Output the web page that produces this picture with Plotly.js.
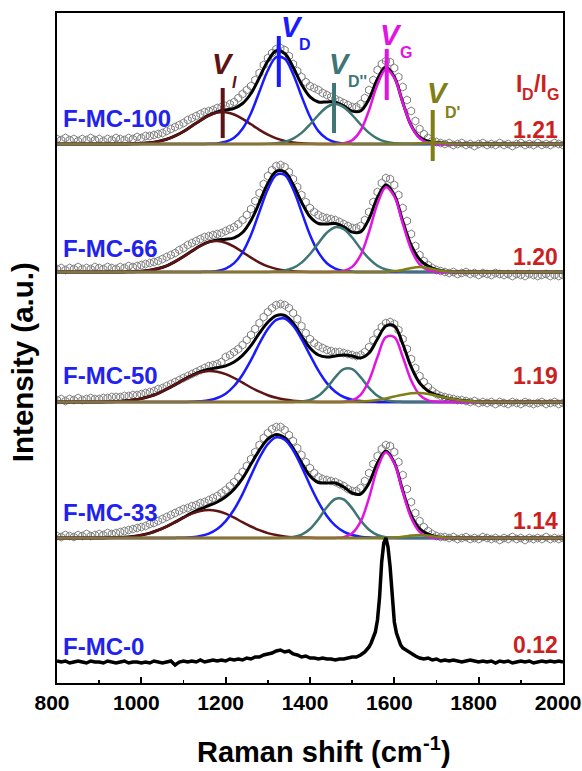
<!DOCTYPE html>
<html><head><meta charset="utf-8">
<script src="https://cdn.plot.ly/plotly-3.0.1.min.js"></script>
<style>html,body{margin:0;padding:0;background:#fff;}#chart{width:582px;height:771px;}</style>
</head><body><div id="chart"></div>
<script>
// ---------------- DATA (heights above each spectrum's own baseline) ----------------
const samples = ['F-MC-100', 'F-MC-66', 'F-MC-50', 'F-MC-33', 'F-MC-0'];
const ratios = ['1.21', '1.20', '1.19', '1.14', '0.12'];
const offsets = [539, 411, 281, 145, 21];          // stacking offsets (a.u.)
const tickVals = [800, 1000, 1200, 1400, 1600, 1800, 2000];

// measured spectra, 800..2000 cm-1 every 10 cm-1
const data100 = [5,4,6,4,5,3,5,4,6,4, 5,3,5,4,6,5,4,6,5,7, 6,8,8,9,10,11,13,15,17,19,
 21,24,26,28,30,32,33,34,36,37, 38,40,42,46,50,54,58,64,71,79, 86,91,95,96,94,88,80,73,67,62,
 58,56,54,51,49,47,45,43,41,39, 37,37,40,46,54,64,74,80,83,82, 76,67,57,44,33,23,15,10,6,3,
 2,1,0,1,-1,0,1,-1,0,-2, 0,1,-1,0,-1,1,-1,0,-2,0, 1,-1,0,-1,1,-1,0,-1,1,0, -1];
const data66 = [3,4,2,4,3,5,3,4,3,5, 4,3,5,4,3,5,4,6,5,6, 7,8,9,10,11,13,15,17,19,22,
 24,27,29,31,33,35,36,37,38,39, 41,43,45,48,52,57,63,71,79,88, 96,102,106,107,105,100,93,85,77,70,
 64,60,57,55,54,53,52,50,48,46, 44,44,46,52,60,70,80,89,94,93, 87,77,64,51,38,26,17,11,7,4,
 2,1,0,-1,0,-2,-1,0,-2,-1, -3,-1,-2,-3,-1,-2,-3,-2,-4,-2, -3,-4,-2,-3,-4,-3,-2,-4,-3,-4, -3];
const data50 = [2,3,1,3,2,4,2,3,4,3, 3,4,4,5,5,5,6,6,7,7, 8,9,10,11,13,14,16,18,20,22,
 24,26,28,30,32,34,36,37,38,40, 45,47,50,53,57,62,67,73,79,85, 90,94,97,98,97,94,89,83,76,69,
 63,59,56,54,52,51,50,50,49,48, 47,46,47,50,55,62,69,75,79,80, 78,72,63,53,43,34,26,20,15,11,
 8,6,5,4,3,2,2,1,0,1, -1,0,-1,0,-2,0,-1,-2,0,-1, -2,0,-1,-2,-1,0,-2,-1,0,-2, -1];
const data33 = [2,1,3,2,1,3,2,4,2,3, 4,3,5,4,5,6,7,8,9,10, 11,12,14,15,17,19,21,23,25,27,
 29,30,32,33,35,36,38,40,42,45, 48,52,56,61,66,72,79,86,93,100, 105,109,111,111,108,103,97,90,83,76,
 70,65,61,59,58,57,56,54,52,49, 47,47,50,57,65,74,82,89,93,92, 86,76,63,49,36,25,17,11,7,4,
 2,1,1,0,1,-1,0,1,-1,0, -1,1,0,-1,0,-2,0,-1,1,-1, 0,-2,0,-1,0,-1,1,-1,0,-1, 0];

// F-MC-0 raw line (irregular sampling near the G band)
const shift0 = [800,810,820,830,840,850,860,870,880,890,900,910,920,930,940,950,960,970,980,990,
 1000,1010,1020,1030,1040,1050,1060,1070,1080,1090,1100,1110,1120,1130,1140,1150,1160,1170,1180,1190,
 1200,1210,1220,1230,1240,1250,1260,1270,1280,1290,1300,1310,1320,1330,1340,1350,1360,1370,1380,1390,
 1400,1410,1420,1430,1440,1450,1460,1470,1480,1490,1500,1510,1520,1530,1540,
 1545,1550,1555,1560,1565,1570,1575,1580,1585,1590,1595,1600,1605,1610,1615,1620,
 1630,1640,1650,1660,1670,1680,1690,1700,1710,1720,1730,1740,1750,1760,1770,1780,1790,
 1800,1810,1820,1830,1840,1850,1860,1870,1880,1890,1900,1910,1920,1930,1940,1950,1960,1970,1980,1990,2000];
const data0 = [1,0,1,-1,0,1,0,-1,1,0, 0,-1,1,0,-1,0,1,-1,0,0,
 -1,0,-1,1,0,-1,0,1,-3,0, 1,0,1,0,2,0,1,2,1,2,
 1,3,2,3,2,4,3,5,5,7, 8,9,11,12,10,11,8,7,5,6,
 4,4,3,4,3,3,2,3,3,4, 5,5,7,10,15,
 19,24,30,42,65,100,119,124,115,95,65,40,29,22,17,14,
 11,8,6,4,3,4,2, 3,1,2,1,2,1,0,1,2,1,
 0,1,0,1,-1,1,0,1,-1,0, 1,0,1,-1,0,1,0,1,0,1, 0];

// fitted curves, 800..2000 cm-1 every 20 cm-1  (I, D, D'', G, D' bands and total fit)
const I100  = [0,0,0,0,0, 0,0,0,0.1,0.2, 0.6,1.3,2.6,4.7,8.1, 12.5,18.1,23.6,28.4,31.4, 31.8,29.5,25.2,19.7,14.1, 9.3,5.6,3.1,1.6,0.7, 0.3,0.1,0,0,0, 0,0,0,0,0, 0,0,0,0,0, 0,0,0,0,0, 0,0,0,0,0, 0,0,0,0,0, 0];
const D100  = [0,0,0,0,0, 0,0,0,0,0, 0,0,0,0,0, 0,0,0,0.2,0.6, 2.2,6.2,15.3,30.8,52.3, 73.5,86.8,85.2,69.8,47.8, 27.3,12.9,5.2,1.7,0.5, 0.1,0,0,0,0, 0,0,0,0,0, 0,0,0,0,0, 0,0,0,0,0, 0,0,0,0,0, 0];
const D2_100= [0,0,0,0,0, 0,0,0,0,0, 0,0,0,0,0, 0,0,0,0,0, 0,0,0,0,0, 0.2,0.8,2.2,5.4,11.1, 19.5,29.0,36.9,40,36.9, 29.0,19.5,11.1,5.4,2.2, 0.8,0.2,0,0,0, 0,0,0,0,0, 0,0,0,0,0, 0,0,0,0,0, 0];
const G100  = [0,0,0,0,0, 0,0,0,0,0, 0,0,0,0,0, 0,0,0,0,0, 0,0,0,0,0, 0,0,0,0,0, 0,0,0,0.1,0.8, 3.8,13.5,33.8,59.5,74.7, 66.2,41.4,18.3,5.8,1.3, 0.2,0,0,0,0, 0,0,0,0,0, 0,0,0,0,0, 0];
const Dp100 = [0,0,0,0,0, 0,0,0,0,0, 0,0,0,0,0, 0,0,0,0,0, 0,0,0,0,0, 0,0,0,0,0, 0,0,0,0,0, 0,0,0,0,0, 0,0,0.2,0.7,1.4, 1.4,0.7,0.2,0,0, 0,0,0,0,0, 0,0,0,0,0, 0];
const fit100= [0,0,0,0,0, 0,0,0,0.1,0.2, 0.6,1.3,2.6,4.7,8.1, 12.5,18.1,23.6,28.6,32.0, 34.0,35.7,40.5,50.5,66.4, 83.0,93.2,90.5,76.8,59.6, 47.1,42.0,42.1,41.8,38.2, 32.9,33.0,44.9,64.9,76.9, 67.0,41.6,18.5,6.5,2.7, 1.6,0.7,0.2,0,0, 0,0,0,0,0, 0,0,0,0,0, 0];

const I66   = [0,0,0,0,0, 0,0,0,0.1,0.3, 0.8,1.8,3.5,6.2,10.4, 15.4,21.0,26.2,29.9,31.0, 29.3,25.3,19.9,14.4,9.4, 5.6,3.1,1.6,0.7,0.3, 0.1,0,0,0,0, 0,0,0,0,0, 0,0,0,0,0, 0,0,0,0,0, 0,0,0,0,0, 0,0,0,0,0, 0];
const D66   = [0,0,0,0,0, 0,0,0,0,0, 0,0,0,0,0, 0,0,0.1,0.3,1.1, 3.4,8.8,19.6,37.1,60.1, 82.7,97.0,97.0,82.7,60.1, 37.1,19.6,8.8,3.4,1.1, 0.3,0,0,0,0, 0,0,0,0,0, 0,0,0,0,0, 0,0,0,0,0, 0,0,0,0,0, 0];
const D2_66 = [0,0,0,0,0, 0,0,0,0,0, 0,0,0,0,0, 0,0,0,0,0, 0,0,0,0,0, 0.1,0.5,1.5,4.1,9.4, 18.0,28.9,39.3,44.8,42.9, 34.5,23.3,13.3,6.3,2.5, 0.9,0.2,0.1,0,0, 0,0,0,0,0, 0,0,0,0,0, 0,0,0,0,0, 0];
const G66   = [0,0,0,0,0, 0,0,0,0,0, 0,0,0,0,0, 0,0,0,0,0, 0,0,0,0,0, 0,0,0,0,0, 0,0,0,0.2,1.1, 5.1,16.8,40.0,68.3,84.7, 75.5,48.5,22.6,7.6,1.9, 0.3,0,0,0,0, 0,0,0,0,0, 0,0,0,0,0, 0];
const Dp66  = [0,0,0,0,0, 0,0,0,0,0, 0,0,0,0,0, 0,0,0,0,0, 0,0,0,0,0, 0,0,0,0,0, 0,0,0,0,0, 0,0,0,0,0.1, 0.7,2.1,4.0,5.0,4.0, 2.1,0.7,0.1,0,0, 0,0,0,0,0, 0,0,0,0,0, 0];
const fit66 = [0,0,0,0,0, 0,0,0,0.1,0.3, 0.8,1.8,3.5,6.2,10.4, 15.4,21.0,26.3,30.2,32.1, 32.7,34.1,39.5,51.5,69.5, 88.4,100.6,100.1,87.5,69.8, 55.2,48.5,48.1,48.4,45.1, 39.9,40.1,53.3,74.6,87.3, 77.1,50.8,26.7,12.6,5.9, 2.4,0.7,0.1,0,0, 0,0,0,0,0, 0,0,0,0,0, 0];

const I50   = [0,0,0,0,0, 0.1,0.2,0.5,1.0,1.9, 3.4,5.6,8.7,12.8,17.4, 22.1,26.4,29.6,31.0,30.3, 27.9,24.0,19.3,14.5,10.3, 6.8,4.2,2.4,1.3,0.7, 0.3,0.1,0,0,0, 0,0,0,0,0, 0,0,0,0,0, 0,0,0,0,0, 0,0,0,0,0, 0,0,0,0,0, 0];
const D50   = [0,0,0,0,0, 0,0,0,0,0, 0,0,0,0,0, 0.1,0.2,0.7,1.7,4.0, 8.3,16.0,27.3,41.8,58.5, 73.0,82.2,83.5,76.3,62.9, 46.9,31.4,18.9,10.2,5.0, 2.3,0.9,0.3,0.1,0, 0,0,0,0,0, 0,0,0,0,0, 0,0,0,0,0, 0,0,0,0,0, 0];
const D2_50 = [0,0,0,0,0, 0,0,0,0,0, 0,0,0,0,0, 0,0,0,0,0, 0,0,0,0,0, 0,0,0,0.1,0.5, 2.0,6.3,14.2,24.9,32.8, 32.8,24.9,14.2,6.3,2.0, 0.5,0.1,0,0,0, 0,0,0,0,0, 0,0,0,0,0, 0,0,0,0,0, 0];
const G50   = [0,0,0,0,0, 0,0,0,0,0, 0,0,0,0,0, 0,0,0,0,0, 0,0,0,0,0, 0,0,0,0,0, 0,0,0,0,0.3, 1.6,7.2,21.5,45.0,64.9, 64.9,45.0,21.5,7.2,1.6, 0.3,0,0,0,0, 0,0,0,0,0, 0,0,0,0,0, 0];
const Dp50  = [0,0,0,0,0, 0,0,0,0,0, 0,0,0,0,0, 0,0,0,0,0, 0,0,0,0,0, 0,0,0,0,0, 0,0,0,0,0.1, 0.2,0.4,1.0,2.0,3.6, 5.5,7.3,8.7,9.0,8.1, 6.4,4.5,2.7,1.4,0.7, 0.3,0.1,0,0,0, 0,0,0,0,0, 0];
const fit50 = [0,0,0,0,0, 0.1,0.2,0.5,1.0,1.9, 3.4,5.6,8.7,12.8,17.4, 22.2,26.6,30.3,32.7,34.3, 36.2,40.0,46.6,56.3,68.8, 79.8,86.4,86.5,79,66, 54,47,45,46,47, 46,44,49,63,76, 76,58,35,19,11, 7,4.5,2.7,1.4,0.7, 0.3,0.1,0,0,0, 0,0,0,0,0, 0];

const I33   = [0,0,0,0,0, 0.1,0.2,0.4,0.8,1.6, 2.9,4.9,7.8,11.5,15.8, 20.3,24.3,27.0,28.0,27.0, 24.3,20.3,15.8,11.5,7.8, 4.9,2.9,1.6,0.8,0.4, 0.2,0.1,0,0,0, 0,0,0,0,0, 0,0,0,0,0, 0,0,0,0,0, 0,0,0,0,0, 0,0,0,0,0, 0];
const D33   = [0,0,0,0,0, 0,0,0,0,0, 0,0,0,0,0.1, 0.3,0.8,2.0,4.4,9.0, 16.9,28.5,43.9,62.4,80.1, 93.9,100.7,98.4,87.8,71.4, 52.8,35.9,22.1,12.4,6.4, 3.0,1.3,0.5,0.2,0, 0,0,0,0,0, 0,0,0,0,0, 0,0,0,0,0, 0,0,0,0,0, 0];
const D2_33 = [0,0,0,0,0, 0,0,0,0,0, 0,0,0,0,0, 0,0,0,0,0, 0,0,0,0,0, 0,0,0.2,1.0,3.4, 9.0,18.8,30.7,39.0,38.5, 29.6,17.6,8.2,3.0,0.8, 0.2,0,0,0,0, 0,0,0,0,0, 0,0,0,0,0, 0,0,0,0,0, 0];
const G33   = [0,0,0,0,0, 0,0,0,0,0, 0,0,0,0,0, 0,0,0,0,0, 0,0,0,0,0, 0,0,0,0,0, 0,0,0,0.1,0.9, 4.7,16.3,40.1,69.7,85.8, 74.7,46.1,20.1,6.2,1.4, 0.2,0,0,0,0, 0,0,0,0,0, 0,0,0,0,0, 0];
const Dp33  = [0,0,0,0,0, 0,0,0,0,0, 0,0,0,0,0, 0,0,0,0,0, 0,0,0,0,0, 0,0,0,0,0, 0,0,0,0,0, 0,0,0,0,0, 0.4,1.2,2.4,3.0,2.4, 1.2,0.4,0.1,0,0, 0,0,0,0,0, 0,0,0,0,0, 0];
const fit33 = [0,0,0,0,0, 0.1,0.2,0.4,0.8,1.6, 2.9,4.9,7.8,11.5,15.9, 20.6,25.1,29.0,32.4,36.0, 41.2,48.8,59.7,73.9,87.9, 98.8,103.6,100.2,89.6,75.2, 62.0,55.5,55,55,51, 45,44,55,75,87, 75.3,47.3,22.5,9.2,3.8, 1.4,0.4,0.1,0,0, 0,0,0,0,0, 0,0,0,0,0, 0];

// band markers on F-MC-100 (position cm-1, bottom / top height above baseline)
const bandNames = ['I', 'D', "D''", 'G', "D'"];
const bandPos = [1193, 1326, 1457, 1582, 1691];
const bandLo  = [6, 57, 11, 44, -17];
const bandHi  = [56, 108, 61, 95, 34];

// ---------------- STYLE ----------------
const FONT = 'Arial, "Liberation Sans", Helvetica, sans-serif';
const COL = {data:'#7f7f7f', fit:'#000000', I:'#5e1414', D:'#1a1aff', D2:'#3e7575', G:'#e214e2', Dp:'#7f7f16',
             label:'#2222ee', ratio:'#cc1f1f'};
const bandCols = [COL.I, COL.D, COL.D2, COL.G, COL.Dp];

// wavenumber grids
const shift10 = []; for (let w = 800; w <= 2000; w += 10) shift10.push(w);
const shift20 = []; for (let w = 800; w <= 2000; w += 20) shift20.push(w);

const spectra = [
  {data: data100, fit: fit100, comps: [I100, D100, D2_100, G100, Dp100]},
  {data: data66,  fit: fit66,  comps: [I66, D66, D2_66, G66, Dp66]},
  {data: data50,  fit: fit50,  comps: [I50, D50, D2_50, G50, Dp50]},
  {data: data33,  fit: fit33,  comps: [I33, D33, D2_33, G33, Dp33]},
];

const shiftUp = (arr, o) => arr.map(v => v + o);
const traces = [];
spectra.forEach((s, k) => {
  const o = offsets[k];
  traces.push({x: shift10, y: shiftUp(s.data, o), type: 'scatter', mode: 'markers', hoverinfo: 'skip',
    marker: {symbol: 'hexagon-open', size: 8, color: COL.data, line: {width: 1, color: COL.data}}});
  traces.push({x: shift20, y: shiftUp(s.fit, o), type: 'scatter', mode: 'lines', hoverinfo: 'skip',
    line: {color: COL.fit, width: 3, shape: 'spline', smoothing: 1}});
  s.comps.forEach((c, j) => {
    traces.push({x: shift20, y: shiftUp(c, o), type: 'scatter', mode: 'lines', hoverinfo: 'skip',
      line: {color: bandCols[j], width: 2.5, shape: 'spline', smoothing: 1}});
  });
});
traces.push({x: shift0, y: shiftUp(data0, offsets[4]), type: 'scatter', mode: 'lines', hoverinfo: 'skip',
  line: {color: '#000', width: 3.5}});
bandPos.forEach((p, j) => {
  traces.push({x: [p, p], y: [offsets[0] + bandLo[j], offsets[0] + bandHi[j]], type: 'scatter', mode: 'lines',
    hoverinfo: 'skip', line: {color: bandCols[j], width: 4}});
});

const ann = [];
const txt = (o) => Object.assign({showarrow: false, borderpad: 0, borderwidth: 0}, o);
const yLab = [564.5, 435, 308, 171, 36.5];
const yRat = [553, 426.5, 307, 162, 38];
samples.forEach((t, k) => {
  ann.push(txt({x: 814, y: yLab[k], xref: 'x', yref: 'y', text: t, xanchor: 'left', yanchor: 'middle',
    font: {family: FONT, size: 24, color: COL.label, weight: 'bold'}}));
  ann.push(txt({x: 1988, y: yRat[k], xref: 'x', yref: 'y', text: ratios[k], xanchor: 'right', yanchor: 'middle',
    font: {family: FONT, size: 23, color: COL.ratio, weight: 'bold'}}));
});
// I_D / I_G header, built from pieces (main letters and lowered subscripts)
const hdr = [['I', 1888.5, 599, 23], ['D', 1903.6, 589, 16], ['/I', 1931.1, 599, 23], ['G', 1961.5, 589, 16]];
hdr.forEach(h => ann.push(txt({x: h[1], y: h[2], xref: 'x', yref: 'y', text: h[0], xanchor: 'left', yanchor: 'middle',
  font: {family: FONT, size: h[3], color: COL.ratio, weight: 'bold'}})));
// band labels (italic V with subscript)
const vPos = [[1193.6, 619], [1357.3, 656], [1471.1, 619], [1592, 648], [1703.5, 590.5]];
const sPos = [[1220.9, 600.5], [1388.1, 639], [1513.8, 601.5], [1627.6, 631], [1737.9, 571]];
bandNames.forEach((b, j) => {
  ann.push(txt({x: vPos[j][0], y: vPos[j][1], xref: 'x', yref: 'y', text: 'V',
    xanchor: 'center', yanchor: 'middle', font: {family: FONT, size: 29, color: bandCols[j], weight: 'bold', style: 'italic'}}));
  ann.push(txt({x: sPos[j][0], y: sPos[j][1], xref: 'x', yref: 'y', text: b,
    xanchor: 'center', yanchor: 'middle',
    font: {family: FONT, size: 16, color: bandCols[j], weight: 'bold', style: b === 'I' ? 'italic' : 'normal'}}));
});
// axis titles (x title built from pieces: text, raised "-1", closing bracket)
const TF = {family: FONT, size: 29, color: '#000', weight: 'bold'};
ann.push(txt({x: 0.7225, y: -0.103, xref: 'paper', yref: 'paper', text: 'Raman shift (cm', xanchor: 'right', yanchor: 'middle', font: TF}));
ann.push(txt({x: 0.7225, y: -0.0896, xref: 'paper', yref: 'paper', text: '-1', xanchor: 'left', yanchor: 'middle',
  font: {family: FONT, size: 20, color: '#000', weight: 'bold'}}));
ann.push(txt({x: 0.7581, y: -0.103, xref: 'paper', yref: 'paper', text: ')', xanchor: 'left', yanchor: 'middle', font: TF}));
ann.push(txt({x: -0.069, y: 0.479, xref: 'paper', yref: 'paper', text: 'Intensity (a.u.)', textangle: -90,
  xanchor: 'center', yanchor: 'middle', font: {family: FONT, size: 29.5, color: '#000', weight: 'bold'}}));

const layout = {
  width: 582, height: 771, margin: {l: 57, r: 19, t: 13, b: 88},
  paper_bgcolor: '#fff', plot_bgcolor: '#fff', showlegend: false,
  font: {family: FONT, color: '#000'},
  xaxis: {range: [800, 2000], tickvals: tickVals, ticktext: tickVals.map(String),
    ticks: 'inside', ticklen: 6, tickwidth: 2, tickcolor: '#000',
    minor: {ticks: 'inside', ticklen: 3.5, tickwidth: 1.5, tickcolor: '#000', dtick: 100, tick0: 800},
    showline: true, linewidth: 2, linecolor: '#000', mirror: true, showgrid: false, zeroline: false,
    tickfont: {family: FONT, size: 21, color: '#000', weight: 'bold'}, ticklabelstandoff: 0,
    ticklabelshift: -5, ticklabeloverflow: 'allow'},
  yaxis: {range: [0, 670], showticklabels: false, ticks: '', showline: true, linewidth: 2, linecolor: '#000',
    mirror: true, showgrid: false, zeroline: false},
  annotations: ann
};
Plotly.newPlot('chart', traces, layout, {staticPlot: true, displayModeBar: false});
</script></body></html>
